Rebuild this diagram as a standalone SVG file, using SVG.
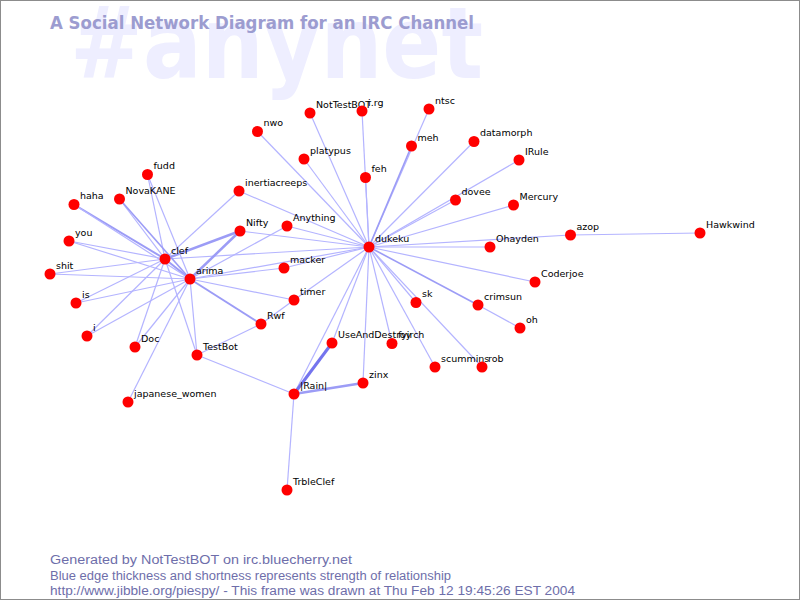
<svg xmlns="http://www.w3.org/2000/svg" width="800" height="600" viewBox="0 0 800 600">
<style>
.e{stroke:#b4b4ff;stroke-width:1.2;fill:none}
.e2{stroke:#9c9cf6;stroke-width:2;fill:none}
.e3{stroke:#7474ee;stroke-width:3;fill:none}
.n circle{fill:#ff0000}
.n text{font-family:"DejaVu Sans",sans-serif;font-size:9.5px;fill:#000}
.ft{font-family:"Liberation Sans",sans-serif;font-size:12px;fill:#6e6eaa}
</style>
<rect x="0.5" y="0.5" width="799" height="599" fill="#ffffff" stroke="#8c8c8c"/>
<text x="70" y="78" font-family="DejaVu Sans,sans-serif" font-weight="bold" font-size="100" fill="#eeeeff" textLength="413" lengthAdjust="spacingAndGlyphs">#anynet</text>
<text x="50" y="29" font-family="DejaVu Sans,sans-serif" font-weight="bold" font-size="17.5" fill="#9c9cd0" textLength="424" lengthAdjust="spacingAndGlyphs">A Social Network Diagram for an IRC Channel</text>
<g id="edges">
<line class="e" x1="369" y1="247" x2="310" y2="113"/>
<line class="e" x1="369" y1="247" x2="362" y2="111"/>
<line class="e" x1="369" y1="247" x2="429" y2="109"/>
<line class="e" x1="369" y1="247" x2="257.5" y2="131.5"/>
<line class="e2" x1="369" y1="247" x2="411.5" y2="146" style="stroke-width:1.6"/>
<line class="e" x1="369" y1="247" x2="474" y2="141.5"/>
<line class="e" x1="369" y1="247" x2="519" y2="160"/>
<line class="e" x1="369" y1="247" x2="304" y2="159"/>
<line class="e" x1="369" y1="247" x2="365.5" y2="177.5"/>
<line class="e" x1="369" y1="247" x2="455.5" y2="200"/>
<line class="e" x1="369" y1="247" x2="513.5" y2="205"/>
<line class="e" x1="369" y1="247" x2="490" y2="247"/>
<line class="e" x1="369" y1="247" x2="570.5" y2="235"/>
<line class="e" x1="570.5" y1="235" x2="700" y2="233"/>
<line class="e" x1="369" y1="247" x2="535" y2="282"/>
<line class="e2" x1="369" y1="247" x2="478" y2="305" style="stroke-width:1.6"/>
<line class="e" x1="478" y1="305" x2="520" y2="328"/>
<line class="e" x1="369" y1="247" x2="416" y2="302.5"/>
<line class="e" x1="369" y1="247" x2="435" y2="367"/>
<line class="e" x1="369" y1="247" x2="482" y2="367"/>
<line class="e" x1="369" y1="247" x2="392" y2="343.5"/>
<line class="e" x1="369" y1="247" x2="363" y2="383"/>
<line class="e" x1="369" y1="247" x2="332" y2="343"/>
<line class="e" x1="369" y1="247" x2="294" y2="394"/>
<line class="e" x1="369" y1="247" x2="294" y2="300"/>
<line class="e" x1="369" y1="247" x2="284" y2="268"/>
<line class="e" x1="369" y1="247" x2="165" y2="259"/>
<line class="e" x1="369" y1="247" x2="190" y2="279"/>
<line class="e" x1="369" y1="247" x2="287" y2="226"/>
<line class="e" x1="369" y1="247" x2="240" y2="231"/>
<line class="e" x1="369" y1="247" x2="239" y2="191"/>
<line class="e" x1="165" y1="259" x2="147.5" y2="174.5"/>
<line class="e" x1="165" y1="259" x2="119.5" y2="199"/>
<line class="e2" x1="165" y1="259" x2="74" y2="204.5"/>
<line class="e" x1="165" y1="259" x2="69" y2="241"/>
<line class="e" x1="165" y1="259" x2="50" y2="274"/>
<line class="e" x1="165" y1="259" x2="76" y2="303"/>
<line class="e" x1="165" y1="259" x2="87" y2="336"/>
<line class="e" x1="165" y1="259" x2="135" y2="347"/>
<line class="e" x1="165" y1="259" x2="197" y2="355"/>
<line class="e2" x1="165" y1="259" x2="240" y2="231" style="stroke-width:2.5"/>
<line class="e2" x1="165" y1="259" x2="190" y2="279"/>
<line class="e" x1="165" y1="259" x2="239" y2="191"/>
<line class="e" x1="190" y1="279" x2="147.5" y2="174.5"/>
<line class="e2" x1="190" y1="279" x2="119.5" y2="199" style="stroke-width:1.6"/>
<line class="e" x1="190" y1="279" x2="74" y2="204.5"/>
<line class="e" x1="190" y1="279" x2="69" y2="241"/>
<line class="e" x1="190" y1="279" x2="50" y2="274"/>
<line class="e" x1="190" y1="279" x2="76" y2="303"/>
<line class="e" x1="190" y1="279" x2="87" y2="336"/>
<line class="e" x1="190" y1="279" x2="135" y2="347"/>
<line class="e" x1="190" y1="279" x2="197" y2="355"/>
<line class="e2" x1="190" y1="279" x2="240" y2="231" style="stroke-width:2.5"/>
<line class="e" x1="190" y1="279" x2="287" y2="226"/>
<line class="e" x1="190" y1="279" x2="284" y2="268"/>
<line class="e" x1="190" y1="279" x2="294" y2="300"/>
<line class="e2" x1="190" y1="279" x2="261" y2="324"/>
<line class="e" x1="190" y1="279" x2="128" y2="402"/>
<line class="e" x1="294" y1="300" x2="261" y2="324"/>
<line class="e" x1="261" y1="324" x2="197" y2="355"/>
<line class="e" x1="197" y1="355" x2="294" y2="394"/>
<line class="e3" x1="332" y1="343" x2="294" y2="394"/>
<line class="e2" x1="294" y1="394" x2="363" y2="383" style="stroke-width:2.5"/>
<line class="e" x1="294" y1="394" x2="287" y2="490"/>
</g>
<g id="n-NotTestBOT" class="n"><circle cx="310" cy="113" r="5.5"/><text x="316" y="107.5">NotTestBOT</text></g>
<g id="n-irg" class="n"><circle cx="362" cy="111" r="5.5"/><text x="368" y="105.5">i.rg</text></g>
<g id="n-ntsc" class="n"><circle cx="429" cy="109" r="5.5"/><text x="435" y="103.5">ntsc</text></g>
<g id="n-nwo" class="n"><circle cx="257.5" cy="131.5" r="5.5"/><text x="263.5" y="126">nwo</text></g>
<g id="n-meh" class="n"><circle cx="411.5" cy="146" r="5.5"/><text x="417.5" y="140.5">meh</text></g>
<g id="n-datamorph" class="n"><circle cx="474" cy="141.5" r="5.5"/><text x="480" y="136">datamorph</text></g>
<g id="n-IRule" class="n"><circle cx="519" cy="160" r="5.5"/><text x="525" y="154.5">IRule</text></g>
<g id="n-platypus" class="n"><circle cx="304" cy="159" r="5.5"/><text x="310" y="153.5">platypus</text></g>
<g id="n-feh" class="n"><circle cx="365.5" cy="177.5" r="5.5"/><text x="371.5" y="172">feh</text></g>
<g id="n-fudd" class="n"><circle cx="147.5" cy="174.5" r="5.5"/><text x="153.5" y="169">fudd</text></g>
<g id="n-NovaKANE" class="n"><circle cx="119.5" cy="199" r="5.5"/><text x="125.5" y="193.5">NovaKANE</text></g>
<g id="n-haha" class="n"><circle cx="74" cy="204.5" r="5.5"/><text x="80" y="199">haha</text></g>
<g id="n-inertiacreeps" class="n"><circle cx="239" cy="191" r="5.5"/><text x="245" y="185.5">inertiacreeps</text></g>
<g id="n-dovee" class="n"><circle cx="455.5" cy="200" r="5.5"/><text x="461.5" y="194.5">dovee</text></g>
<g id="n-Mercury" class="n"><circle cx="513.5" cy="205" r="5.5"/><text x="519.5" y="199.5">Mercury</text></g>
<g id="n-Anything" class="n"><circle cx="287" cy="226" r="5.5"/><text x="293" y="220.5">Anything</text></g>
<g id="n-Nifty" class="n"><circle cx="240" cy="231" r="5.5"/><text x="246" y="225.5">Nifty</text></g>
<g id="n-you" class="n"><circle cx="69" cy="241" r="5.5"/><text x="75" y="235.5">you</text></g>
<g id="n-azop" class="n"><circle cx="570.5" cy="235" r="5.5"/><text x="576.5" y="229.5">azop</text></g>
<g id="n-Hawkwind" class="n"><circle cx="700" cy="233" r="5.5"/><text x="706" y="227.5">Hawkwind</text></g>
<g id="n-dukeku" class="n"><circle cx="369" cy="247" r="5.5"/><text x="375" y="241.5">dukeku</text></g>
<g id="n-Ohayden" class="n"><circle cx="490" cy="247" r="5.5"/><text x="496" y="241.5">Ohayden</text></g>
<g id="n-clef" class="n"><circle cx="165" cy="259" r="5.5"/><text x="171" y="253.5">clef</text></g>
<g id="n-macker" class="n"><circle cx="284" cy="268" r="5.5"/><text x="290" y="262.5">macker</text></g>
<g id="n-shit" class="n"><circle cx="50" cy="274" r="5.5"/><text x="56" y="268.5">shit</text></g>
<g id="n-arima" class="n"><circle cx="190" cy="279" r="5.5"/><text x="196" y="273.5">arima</text></g>
<g id="n-Coderjoe" class="n"><circle cx="535" cy="282" r="5.5"/><text x="541" y="276.5">Coderjoe</text></g>
<g id="n-timer" class="n"><circle cx="294" cy="300" r="5.5"/><text x="300" y="294.5">timer</text></g>
<g id="n-is" class="n"><circle cx="76" cy="303" r="5.5"/><text x="82" y="297.5">is</text></g>
<g id="n-sk" class="n"><circle cx="416" cy="302.5" r="5.5"/><text x="422" y="297">sk</text></g>
<g id="n-crimsun" class="n"><circle cx="478" cy="305" r="5.5"/><text x="484" y="299.5">crimsun</text></g>
<g id="n-Rwf" class="n"><circle cx="261" cy="324" r="5.5"/><text x="267" y="318.5">Rwf</text></g>
<g id="n-oh" class="n"><circle cx="520" cy="328" r="5.5"/><text x="526" y="322.5">oh</text></g>
<g id="n-i" class="n"><circle cx="87" cy="336" r="5.5"/><text x="93" y="330.5">i</text></g>
<g id="n-Doc" class="n"><circle cx="135" cy="347" r="5.5"/><text x="141" y="341.5">Doc</text></g>
<g id="n-UseAndDestroy" class="n"><circle cx="332" cy="343" r="5.5"/><text x="338" y="337.5">UseAndDestroy</text></g>
<g id="n-fyirch" class="n"><circle cx="392" cy="343.5" r="5.5"/><text x="398" y="338">fyirch</text></g>
<g id="n-TestBot" class="n"><circle cx="197" cy="355" r="5.5"/><text x="203" y="349.5">TestBot</text></g>
<g id="n-scummins" class="n"><circle cx="435" cy="367" r="5.5"/><text x="441" y="361.5">scummins</text></g>
<g id="n-rob" class="n"><circle cx="482" cy="367" r="5.5"/><text x="488" y="361.5">rob</text></g>
<g id="n-zinx" class="n"><circle cx="363" cy="383" r="5.5"/><text x="369" y="377.5">zinx</text></g>
<g id="n-Rain" class="n"><circle cx="294" cy="394" r="5.5"/><text x="300" y="388.5">|Rain|</text></g>
<g id="n-japanese_women" class="n"><circle cx="128" cy="402" r="5.5"/><text x="134" y="396.5">japanese_women</text></g>
<g id="n-TrbleClef" class="n"><circle cx="287" cy="490" r="5.5"/><text x="293" y="484.5">TrbleClef</text></g>
<text class="ft" x="50" y="564" textLength="302" lengthAdjust="spacingAndGlyphs">Generated by NotTestBOT on irc.bluecherry.net</text>
<text class="ft" x="50" y="580" textLength="401" lengthAdjust="spacingAndGlyphs">Blue edge thickness and shortness represents strength of relationship</text>
<text class="ft" x="50" y="595" textLength="525" lengthAdjust="spacingAndGlyphs">http://www.jibble.org/piespy/ - This frame was drawn at Thu Feb 12 19:45:26 EST 2004</text>
</svg>
